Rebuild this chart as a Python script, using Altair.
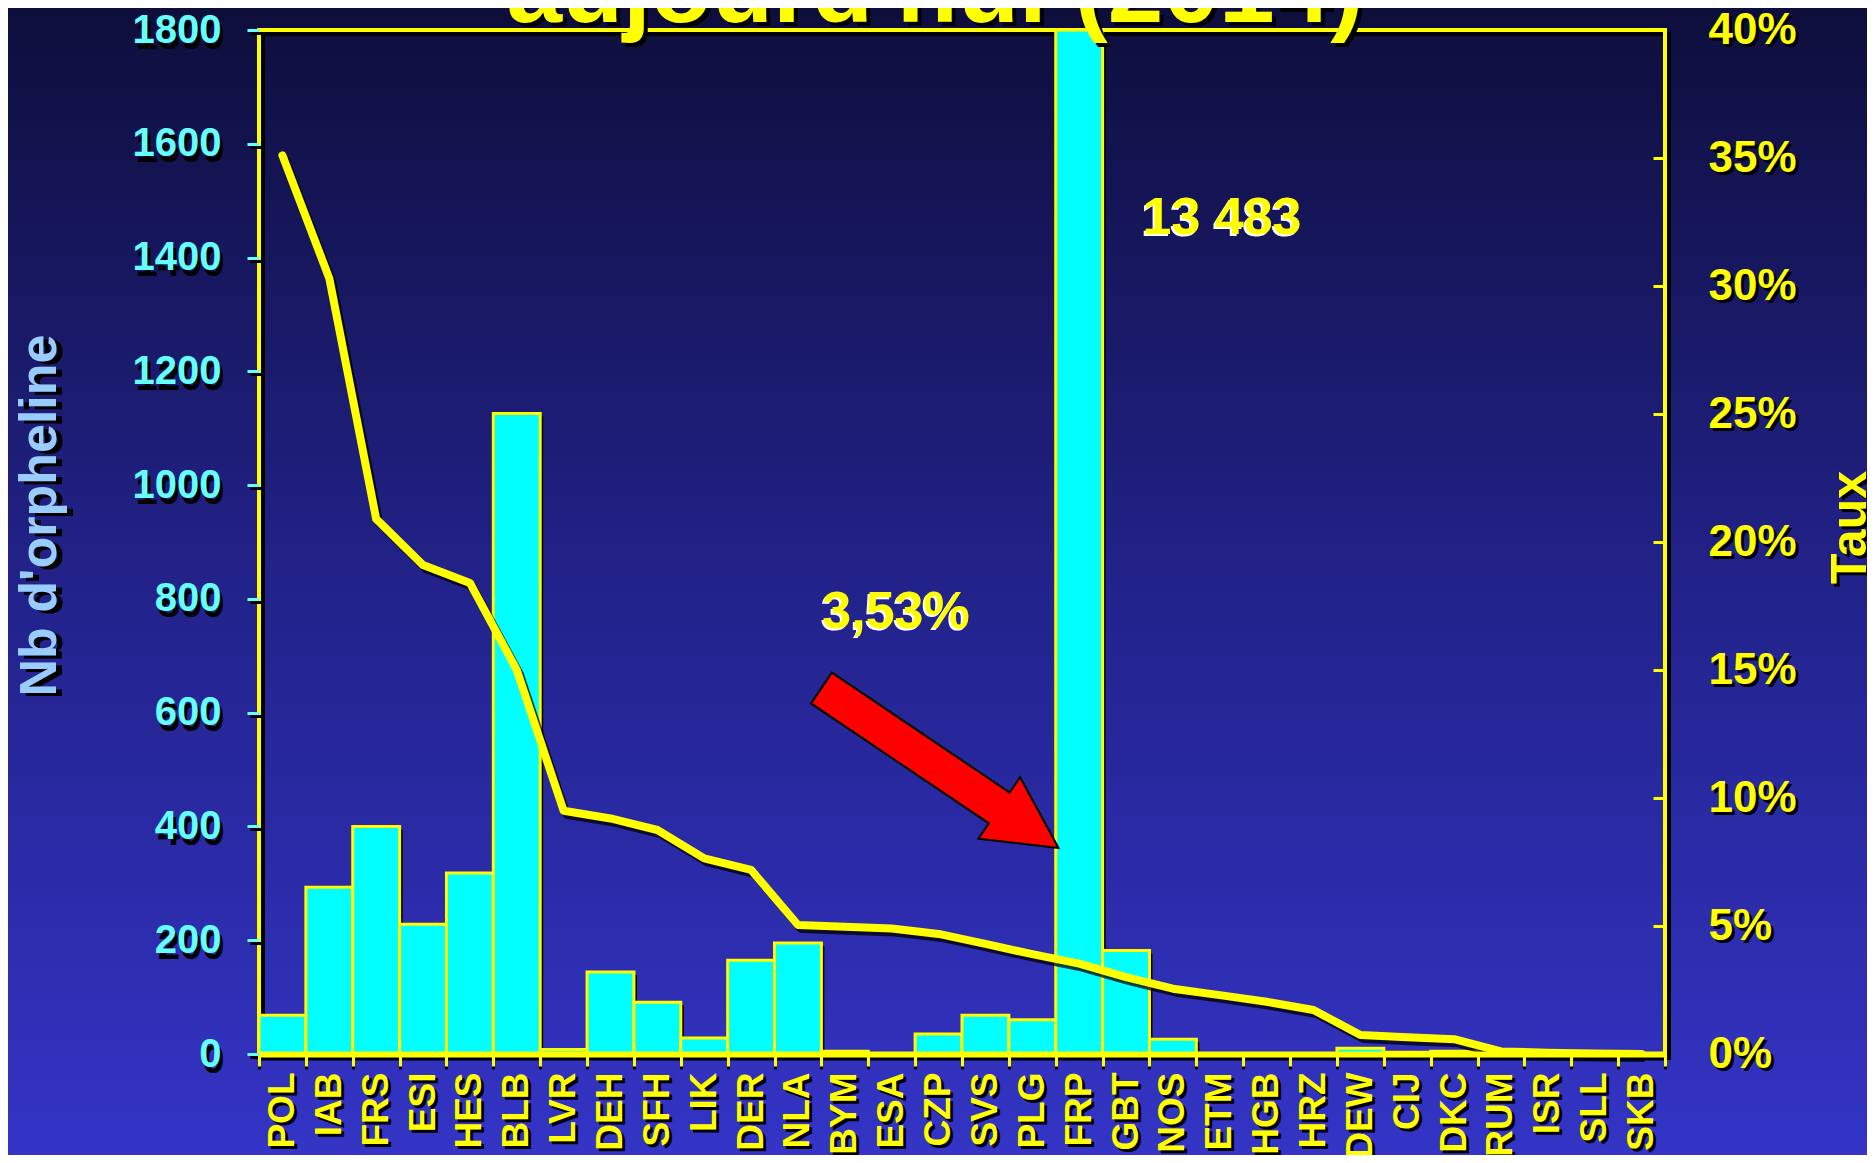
import altair as alt
import pandas as pd

# ---------------- data ----------------
categories = ["POL", "IAB", "FRS", "ESI", "HES", "BLB", "LVR", "DEH", "SFH", "LIK",
              "DER", "NLA", "BYM", "ESA", "CZP", "SVS", "PLG", "FRP", "GBT", "NOS",
              "ETM", "HGB", "HRZ", "DEW", "CIJ", "DKC", "RUM", "ISR", "SLL", "SKB"]
counts = [68, 293, 400, 228, 318, 1126, 8, 144, 91, 28,
          165, 195, 5, 1, 35, 68, 60, 13483, 182, 26,
          0, 0, 0, 10, 3, 5, 0, 0, 0, 0]
rates = [0.351, 0.303, 0.209, 0.191, 0.184, 0.150, 0.095, 0.092, 0.0875, 0.0764,
         0.0719, 0.0504, 0.0497, 0.0490, 0.0469, 0.0430, 0.0390, 0.0353, 0.0300, 0.0255,
         0.0230, 0.0204, 0.0172, 0.0074, 0.0065, 0.0058, 0.0010, 0.0005, 0.0002, 0.0]
count_ticks = [0, 200, 400, 600, 800, 1000, 1200, 1400, 1600, 1800]
rate_ticks = [0.0, 0.05, 0.10, 0.15, 0.20, 0.25, 0.30, 0.35, 0.40]

title_text = "aujourd'hui (2014)"
frp_label = "13 483"
rate_label = "3,53%"
left_title = "Nb d'orpheline"
right_title = "Taux"

# ---------------- layout / style ----------------
W, H = 1406, 1024
PAD = {"left": 251, "top": 22, "right": 202, "bottom": 101}
FONT = "Liberation Sans"
YEL = "#ffff00"
CYAN = "#00ffff"
BLK = "#000000"
SH = 3  # shadow offset

df = pd.DataFrame({"cat": categories, "count": counts, "rate": rates})
one = pd.DataFrame({"k": [0]})

band = alt.Scale(paddingInner=0, paddingOuter=0)
count_scale = alt.Scale(domain=[0, 1800], clamp=True, nice=False, zero=True)
rate_scale = alt.Scale(domain=[0, 0.4], clamp=True, nice=False, zero=True)


def x_axis(color, shadow=False):
    kw = dict(orient="bottom", labelAngle=270, labelColor=color, labelFont=FONT,
              labelFontSize=37, labelFontWeight="bold", labelPadding=6,
              labelOverlap=False, tickBand="extent", tickColor=color, tickWidth=3,
              tickSize=12, domainColor=color, domainWidth=6, grid=False, zindex=2)
    if shadow:
        kw.update(offset=SH, labelOffset=SH, zindex=1)
    return alt.Axis(**kw)


def left_axis(color, title_color, shadow=False):
    kw = dict(orient="left", values=count_ticks, format="d", domain=False, grid=False,
              tickColor=color, tickWidth=3, tickSize=12,
              labelColor=color, labelFont=FONT, labelFontSize=40,
              labelFontWeight="bold", labelPadding=26, labelFlush=False,
              titleColor=title_color, titleFont=FONT, titleFontSize=52,
              titleFontWeight="bold", titleAngle=270, titleX=-220, titleY=485,
              titleAlign="center", titleBaseline="middle", zindex=2)
    if shadow:
        kw.update(offset=-SH, labelOffset=SH, tickOffset=SH, titleX=-220 + SH,
                  titleY=485 + SH, zindex=1)
    return alt.Axis(**kw)


def right_axis(color, shadow=False):
    kw = dict(orient="right", values=rate_ticks, format=".0%", domain=False,
              ticks=False, grid=False, labelColor=color, labelFont=FONT,
              labelFontSize=44, labelFontWeight="bold", labelPadding=43,
              labelFlush=False, titleColor=color, titleFont=FONT,
              titleFontSize=50, titleFontWeight="bold", titleAngle=270,
              titleX=185, titleY=497, titleAlign="center",
              titleBaseline="middle", zindex=2)
    if shadow:
        kw.update(offset=SH, labelOffset=SH, titleY=497 + SH, zindex=1)
    return alt.Axis(**kw)


# background gradient
bg = alt.Chart(one).mark_rect(
    fill={"gradient": "linear", "x1": 0, "y1": 0, "x2": 0, "y2": 1,
          "stops": [{"offset": 0, "color": "#0e0e3c"},
                    {"offset": 0.5, "color": "#22228a"},
                    {"offset": 1, "color": "#3434c6"}]}
).encode(x=alt.value(-PAD["left"]), x2=alt.value(W + PAD["right"]),
         y=alt.value(-PAD["top"]), y2=alt.value(H + PAD["bottom"]))

frame_shadow = alt.Chart(one).mark_rect(
    fillOpacity=0, stroke=BLK, strokeWidth=4
).encode(x=alt.value(4), x2=alt.value(W + 4), y=alt.value(4), y2=alt.value(H + 4))

frame = alt.Chart(one).mark_rect(
    fillOpacity=0, stroke=YEL, strokeWidth=4
).encode(x=alt.value(0), x2=alt.value(W), y=alt.value(0), y2=alt.value(H))

bar_shadow = alt.Chart(df).mark_bar(
    color=BLK, xOffset=3, yOffset=3, y2Offset=3
).encode(
    x=alt.X("cat:N", sort=categories, title=None, scale=band, axis=x_axis(BLK, True)),
    y=alt.Y("count:Q", scale=count_scale, title=left_title,
            axis=left_axis(BLK, BLK, True)),
)

bars = alt.Chart(df).mark_bar(
    color=CYAN, stroke=YEL, strokeWidth=3
).encode(
    x=alt.X("cat:N", sort=categories, title=None, scale=band, axis=x_axis(YEL)),
    y=alt.Y("count:Q", scale=count_scale, title=left_title,
            axis=left_axis("#66ffff", "#99ccff")),
)

# inward ticks on the right axis (invisible carrier line)
right_ticks = alt.Chart(df).mark_line(opacity=0).encode(
    x=alt.X("cat:N", sort=categories, title=None, scale=band, axis=None),
    y=alt.Y("rate:Q", scale=rate_scale, title=None,
            axis=alt.Axis(orient="right", values=rate_ticks, offset=-12, labels=False,
                          domain=False, grid=False, tickColor=YEL, tickWidth=3,
                          tickSize=12, zindex=2)),
)

line_shadow = alt.Chart(df).mark_line(
    color=BLK, strokeWidth=8, opacity=0.75, xOffset=3, yOffset=4, strokeJoin="round"
).encode(
    x=alt.X("cat:N", sort=categories, title=None, scale=band, axis=None),
    y=alt.Y("rate:Q", scale=rate_scale, title=right_title, axis=right_axis(BLK, True)),
)

line = alt.Chart(df).mark_line(
    color=YEL, strokeWidth=8, strokeJoin="round", strokeCap="round"
).encode(
    x=alt.X("cat:N", sort=categories, title=None, scale=band, axis=None),
    y=alt.Y("rate:Q", scale=rate_scale, title=right_title, axis=right_axis(YEL)),
)


def label(text, x, y, size, color, shadow, dx, dy, baseline="middle"):
    sh = alt.Chart(one).mark_text(
        text=text, font=FONT, fontSize=size, fontWeight="bold", color=shadow,
        align="center", baseline=baseline
    ).encode(x=alt.value(x + dx), y=alt.value(y + dy))
    fg = alt.Chart(one).mark_text(
        text=text, font=FONT, fontSize=size, fontWeight="bold", color=color,
        align="center", baseline=baseline
    ).encode(x=alt.value(x), y=alt.value(y))
    return [sh, fg]


title_layers = label(title_text, 676, -8, 100, YEL, BLK, 4, 4, baseline="alphabetic")
frp_layers = label(frp_label, 963, 188, 52, YEL, "#ffffff", -2, 2)
rate_layers = label(rate_label, 637, 582, 52, YEL, "#ffffff", -2, 2)

arrow_path = ("M -1 -0.13 L 0.5 -0.13 L 0.5 -0.26 L 1 0 L 0.5 0.26 "
              "L 0.5 0.13 L -1 0.13 Z")
arrow = alt.Chart(one).mark_point(
    shape=arrow_path, size=81796, angle=34, filled=True, fill="#ff0000",
    stroke=BLK, strokeWidth=2, opacity=1
).encode(x=alt.value(681), y=alt.value(738))

chart = alt.layer(
    bg, frame_shadow, frame, bar_shadow, bars, right_ticks, line_shadow, line,
    *title_layers, *frp_layers, *rate_layers, arrow
).resolve_scale(x="independent", y="independent").properties(
    width=W, height=H, padding=PAD,
    autosize=alt.AutoSizeParams(type="none"),
    background="#1f1f80",
).configure_view(strokeWidth=0)

chart.save("out.html", embed_options={"renderer": "svg", "actions": False})
